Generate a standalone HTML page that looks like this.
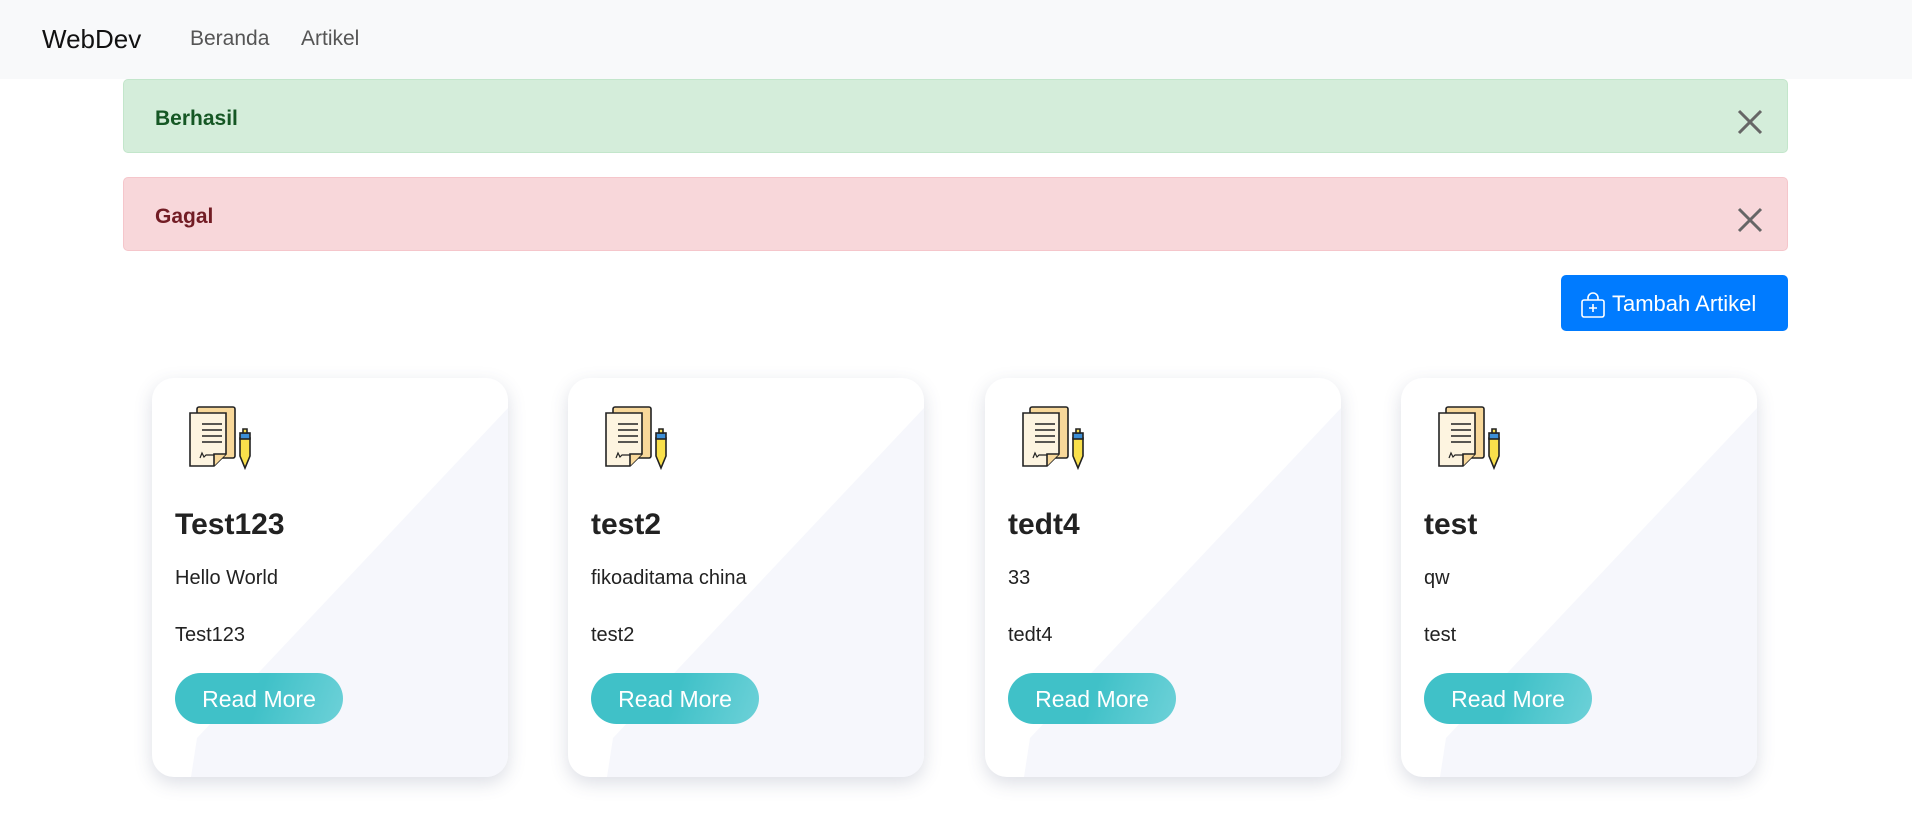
<!DOCTYPE html>
<html><head><meta charset="utf-8"><style>
*{box-sizing:border-box;margin:0;padding:0}
body{width:1912px;height:828px;background:#fff;font-family:"Liberation Sans",sans-serif;position:relative;overflow:hidden}
.nav{position:absolute;left:0;top:0;width:1912px;height:79px;background:#f8f9fa}
.brand{position:absolute;left:42px;top:24px;font-size:26px;color:#111}
.link{position:absolute;top:27px;font-size:21px;color:#555}
.alert{position:absolute;left:123px;width:1665px;height:74px;border-radius:5px;border:1px solid}
.alert b{position:absolute;left:31px;top:27px;font-size:21px}
.x{position:absolute;right:24px;top:29px;width:26px;height:26px}
.btn{position:absolute;left:1561px;top:275px;width:227px;height:56px;background:#007bff;border-radius:5px;color:#fff;font-size:22px}
.card{position:absolute;top:378px;width:356px;height:399px;border-radius:22px;background:#fff;box-shadow:0 6px 18px rgba(60,70,110,.18);overflow:hidden}
.card:before{content:"";position:absolute;inset:0;background:#f6f7fc;clip-path:polygon(100% 30px,100% 100%,39px 100%,45px 360px)}
.card svg{position:absolute;left:28px;top:22px}
.t{position:absolute;left:23px;top:130px;font-size:30px;font-weight:bold;color:#222}
.d{position:absolute;left:23px;top:189px;font-size:20px;color:#222}
.s{position:absolute;left:23px;top:246px;font-size:20px;color:#222}
.rm{position:absolute;left:23px;top:295px;width:168px;height:51px;border-radius:26px;background:linear-gradient(110deg,#40c1c8 50%,#6dd1d8);color:#fff;font-size:23px;text-align:center;line-height:53px}
</style></head><body>
<div class="nav"><span class="brand">WebDev</span><span class="link" style="left:190px">Beranda</span><span class="link" style="left:301px">Artikel</span></div>
<div class="alert" style="top:79px;background:#d4edda;border-color:#c3e6cb"><b style="color:#155724">Berhasil</b><svg class="x" viewBox="0 0 26 26"><path d="M2 2L24 24M24 2L2 24" stroke="#666" stroke-width="3"/></svg></div>
<div class="alert" style="top:177px;background:#f8d7da;border-color:#f5c6cb"><b style="color:#721c24">Gagal</b><svg class="x" viewBox="0 0 26 26"><path d="M2 2L24 24M24 2L2 24" stroke="#666" stroke-width="3"/></svg></div>
<div class="btn"><svg style="position:absolute;left:20px;top:17px" width="24" height="26" viewBox="0 0 24 26"><rect x="1" y="8" width="22" height="17" rx="2" fill="none" stroke="#fff" stroke-width="1.6"/><path d="M7 8V6a5 5 0 0 1 10 0v2M12 12v8M8 16h8" fill="none" stroke="#fff" stroke-width="1.6"/></svg><span style="position:absolute;left:51px;top:16px">Tambah Artikel</span></div>

<div class="card" style="left:152px"><svg width="80" height="80" viewBox="0 0 80 80"><g stroke="#222" stroke-width="1.6"><rect x="17" y="7" width="38" height="51" rx="2" fill="#f8d89a"/><path d="M10 13h36v41l-12 12H10z" fill="#fdf4e0"/><path d="M46 54h-12v12" fill="#f8d89a"/><path d="M22 24h20M22 30h20M22 36h20M22 42h20" /><path d="M20 58l2-5 2 4 2-2h8" fill="none" stroke-width="1.2"/><path d="M60 38h10v18l-5 12-5-12z" fill="#f9e04b"/><rect x="60" y="33" width="10" height="6" fill="#3d8fd6"/><path d="M63 29h4v4h-4z" fill="#f9e04b"/></g></svg><div class="t">Test123</div><div class="d">Hello World</div><div class="s">Test123</div><div class="rm">Read More</div></div>
<div class="card" style="left:568px"><svg width="80" height="80" viewBox="0 0 80 80"><g stroke="#222" stroke-width="1.6"><rect x="17" y="7" width="38" height="51" rx="2" fill="#f8d89a"/><path d="M10 13h36v41l-12 12H10z" fill="#fdf4e0"/><path d="M46 54h-12v12" fill="#f8d89a"/><path d="M22 24h20M22 30h20M22 36h20M22 42h20" /><path d="M20 58l2-5 2 4 2-2h8" fill="none" stroke-width="1.2"/><path d="M60 38h10v18l-5 12-5-12z" fill="#f9e04b"/><rect x="60" y="33" width="10" height="6" fill="#3d8fd6"/><path d="M63 29h4v4h-4z" fill="#f9e04b"/></g></svg><div class="t">test2</div><div class="d">fikoaditama china</div><div class="s">test2</div><div class="rm">Read More</div></div>
<div class="card" style="left:985px"><svg width="80" height="80" viewBox="0 0 80 80"><g stroke="#222" stroke-width="1.6"><rect x="17" y="7" width="38" height="51" rx="2" fill="#f8d89a"/><path d="M10 13h36v41l-12 12H10z" fill="#fdf4e0"/><path d="M46 54h-12v12" fill="#f8d89a"/><path d="M22 24h20M22 30h20M22 36h20M22 42h20" /><path d="M20 58l2-5 2 4 2-2h8" fill="none" stroke-width="1.2"/><path d="M60 38h10v18l-5 12-5-12z" fill="#f9e04b"/><rect x="60" y="33" width="10" height="6" fill="#3d8fd6"/><path d="M63 29h4v4h-4z" fill="#f9e04b"/></g></svg><div class="t">tedt4</div><div class="d">33</div><div class="s">tedt4</div><div class="rm">Read More</div></div>
<div class="card" style="left:1401px"><svg width="80" height="80" viewBox="0 0 80 80"><g stroke="#222" stroke-width="1.6"><rect x="17" y="7" width="38" height="51" rx="2" fill="#f8d89a"/><path d="M10 13h36v41l-12 12H10z" fill="#fdf4e0"/><path d="M46 54h-12v12" fill="#f8d89a"/><path d="M22 24h20M22 30h20M22 36h20M22 42h20" /><path d="M20 58l2-5 2 4 2-2h8" fill="none" stroke-width="1.2"/><path d="M60 38h10v18l-5 12-5-12z" fill="#f9e04b"/><rect x="60" y="33" width="10" height="6" fill="#3d8fd6"/><path d="M63 29h4v4h-4z" fill="#f9e04b"/></g></svg><div class="t">test</div><div class="d">qw</div><div class="s">test</div><div class="rm">Read More</div></div>
</body></html>
